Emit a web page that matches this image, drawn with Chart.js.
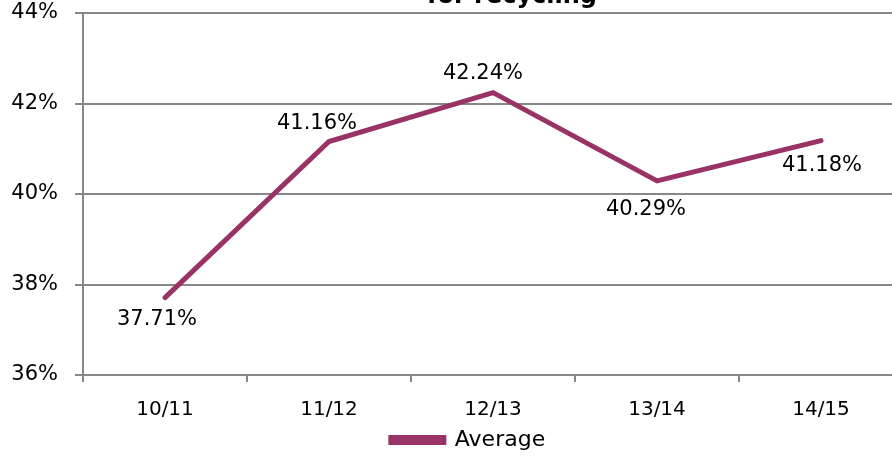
<!DOCTYPE html>
<html>
<head>
<meta charset="utf-8">
<script src="https://cdn.jsdelivr.net/npm/chart.js@4/dist/chart.umd.min.js"></script>
<style>
  html, body { margin: 0; padding: 0; background: #fff; overflow: hidden; }
  #wrap { position: relative; width: 892px; height: 456px; overflow: hidden; }
  #c { position: absolute; left: 0; top: 0; }
</style>
</head>
<body>
<div id="wrap"><canvas id="c" width="936" height="461"></canvas></div>
<script>
// ---- data ----
const categories = ['10/11', '11/12', '12/13', '13/14', '14/15'];
const averageValues = [37.71, 41.16, 42.24, 40.29, 41.18];
const seriesName = 'Average';
const yMin = 36, yMax = 44, yStep = 2;
const titleText = 'for recycling';

// ---- styling ----
const lineColor = '#993366';
const gridColor = '#878787';
const fontFamily = '"DejaVu Sans", Verdana, sans-serif';
const labelShiftX = [-8, -12, -10, -11, 1];
const labelShiftY = [22, -18, -19, 29, 25];

const titlePlugin = {
  id: 'cutTitle',
  afterDraw(chart) {
    const ctx = chart.ctx;
    ctx.save();
    ctx.font = 'bold 24px ' + fontFamily;
    ctx.fillStyle = '#000';
    ctx.textAlign = 'center';
    ctx.textBaseline = 'alphabetic';
    ctx.fillText(titleText, 512, 3);
    ctx.restore();
  }
};

const valueLabels = {
  id: 'valueLabels',
  afterDatasetsDraw(chart) {
    const ctx = chart.ctx;
    const meta = chart.getDatasetMeta(0);
    ctx.save();
    ctx.font = '21px ' + fontFamily;
    ctx.fillStyle = '#000';
    ctx.textAlign = 'center';
    ctx.textBaseline = 'middle';
    meta.data.forEach((pt, i) => {
      const v = chart.data.datasets[0].data[i];
      ctx.fillText(v.toFixed(2) + '%', pt.x + labelShiftX[i], pt.y + labelShiftY[i]);
    });
    ctx.restore();
  }
};

new Chart(document.getElementById('c'), {
  type: 'line',
  data: {
    labels: categories,
    datasets: [{
      label: seriesName,
      data: averageValues,
      borderColor: lineColor,
      backgroundColor: lineColor,
      borderWidth: 5,
      borderCapStyle: 'round',
      pointRadius: 0,
      pointHoverRadius: 0,
      tension: 0,
      fill: false,
      yAxisID: 'y'
    }]
  },
  options: {
    responsive: false,
    animation: false,
    devicePixelRatio: 1,
    layout: { padding: { left: 0, right: 0, top: 13, bottom: 0 } },
    plugins: {
      legend: {
        display: true,
        position: 'bottom',
        labels: {
          boxWidth: 53,
          boxHeight: 5,
          padding: 10,
          color: '#000',
          font: { family: fontFamily, size: 22 }
        }
      },
      title: { display: false },
      tooltip: { enabled: false }
    },
    scales: {
      x: {
        offset: true,
        afterFit(s) { s.height = 44; s.paddingLeft = 0; s.paddingRight = 0; },
        grid: {
          offset: true,
          drawOnChartArea: false,
          drawTicks: true,
          tickLength: 7,
          color: gridColor,
          lineWidth: 2
        },
        border: { display: true, color: gridColor, width: 2 },
        ticks: {
          color: '#000',
          padding: 16,
          maxRotation: 0,
          font: { family: fontFamily, size: 20 }
        }
      },
      y: {
        position: 'left',
        min: yMin,
        max: yMax,
        afterFit(s) { s.width = 83; s.paddingTop = 0; s.paddingBottom = 0; },
        grid: {
          color: gridColor,
          lineWidth: 2,
          drawTicks: true,
          tickLength: 8
        },
        border: { display: true, color: gridColor, width: 2 },
        ticks: {
          stepSize: yStep,
          color: '#000',
          padding: 17,
          font: { family: fontFamily, size: 21 },
          callback: (v) => v + '%'
        }
      },
      yRightSpace: {
        position: 'right',
        display: true,
        afterFit(s) { s.width = 33; s.paddingTop = 0; s.paddingBottom = 0; },
        grid: { display: false, drawOnChartArea: false },
        border: { display: false },
        ticks: { display: false }
      }
    }
  },
  plugins: [titlePlugin, valueLabels]
});
</script>
</body>
</html>
